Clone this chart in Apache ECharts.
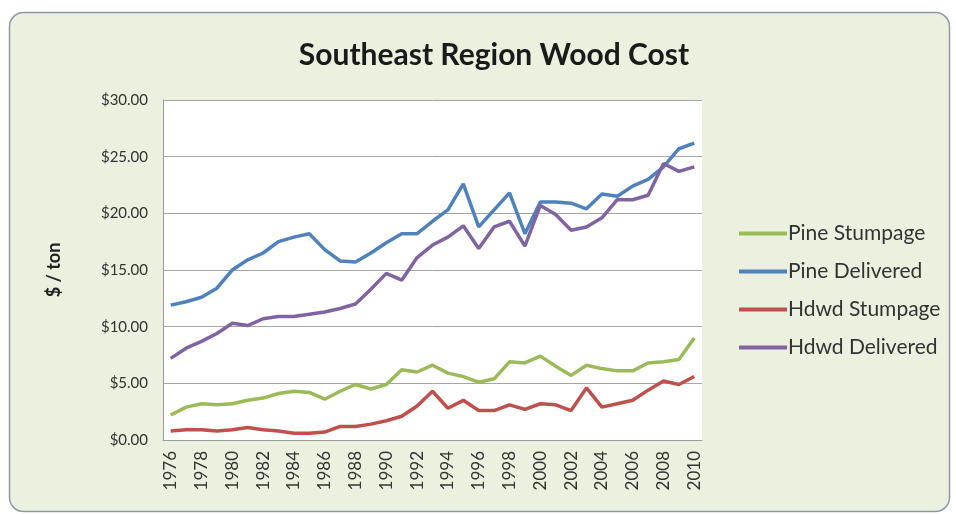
<!DOCTYPE html>
<html>
<head>
<meta charset="utf-8">
<script src="https://cdn.jsdelivr.net/npm/echarts@6/dist/echarts.min.js"></script>
<style>
  html, body { margin: 0; padding: 0; background: #ffffff; }
  #chart { width: 956px; height: 514px; }
</style>
</head>
<body>
<div id="chart"></div>
<script>
// Years on the category axis
const years = [];
for (let y = 1976; y <= 2010; y++) years.push(String(y));

// Wood cost, $ per ton
const pineStumpage = [2.2, 2.9, 3.2, 3.1, 3.2, 3.5, 3.7, 4.1, 4.3, 4.2, 3.6, 4.3, 4.9, 4.5, 4.9, 6.2, 6.0,
  6.6, 5.9, 5.6, 5.1, 5.4, 6.9, 6.8, 7.4, 6.5, 5.7, 6.6, 6.3, 6.1, 6.1, 6.8, 6.9, 7.1, 9.0];
const pineDelivered = [11.9, 12.2, 12.6, 13.4, 15.0, 15.9, 16.5, 17.5, 17.9, 18.2, 16.8, 15.8, 15.7, 16.5, 17.4, 18.2, 18.2,
  19.3, 20.3, 22.6, 18.8, 20.3, 21.8, 18.2, 21.0, 21.0, 20.9, 20.4, 21.7, 21.5, 22.4, 23.0, 24.1, 25.7, 26.2];
const hdwdStumpage = [0.8, 0.9, 0.9, 0.8, 0.9, 1.1, 0.9, 0.8, 0.6, 0.6, 0.7, 1.2, 1.2, 1.4, 1.7, 2.1, 3.0,
  4.3, 2.8, 3.5, 2.6, 2.6, 3.1, 2.7, 3.2, 3.1, 2.6, 4.6, 2.9, 3.2, 3.5, 4.4, 5.2, 4.9, 5.6];
const hdwdDelivered = [7.2, 8.1, 8.7, 9.4, 10.3, 10.1, 10.7, 10.9, 10.9, 11.1, 11.3, 11.6, 12.0, 13.3, 14.7, 14.1, 16.1,
  17.2, 17.9, 18.9, 16.9, 18.8, 19.3, 17.1, 20.7, 19.9, 18.5, 18.8, 19.6, 21.2, 21.2, 21.6, 24.4, 23.7, 24.1];

const seriesNames = ['Pine Stumpage', 'Pine Delivered', 'Hdwd Stumpage', 'Hdwd Delivered'];
const seriesData = [pineStumpage, pineDelivered, hdwdStumpage, hdwdDelivered];
const seriesColors = ['#9BBB59', '#4F81BD', '#C0504D', '#8064A2'];

const font = 'Lato, "Open Sans", sans-serif';

const chart = echarts.init(document.getElementById('chart'), null, { renderer: 'canvas' });

chart.setOption({
  backgroundColor: '#ffffff',
  animation: false,
  color: seriesColors,
  graphic: [{
    type: 'rect',
    z: -10,
    shape: { x: 9.5, y: 12.5, width: 940, height: 499, r: 14 },
    style: { fill: '#EBF1DE', stroke: '#8E98A8', lineWidth: 1.5 }
  }],
  title: {
    text: 'Southeast Region Wood Cost',
    left: 489,
    top: 35,
    textAlign: 'center',
    textStyle: { fontFamily: font, fontWeight: 'bold', fontSize: 30, color: '#1a1a1a' }
  },
  legend: {
    orient: 'vertical',
    left: 734,
    top: 218,
    itemWidth: 48,
    itemHeight: 4,
    itemGap: 17,
    icon: 'rect',
    data: seriesNames,
    textStyle: { fontFamily: font, fontSize: 21, color: '#333333', padding: [0, 0, 0, -4] }
  },
  grid: {
    left: 163,
    right: 254,
    top: 100,
    bottom: 74,
    show: true,
    backgroundColor: '#ffffff',
    borderWidth: 0
  },
  xAxis: {
    type: 'category',
    data: years,
    boundaryGap: true,
    axisLine: { show: true, lineStyle: { color: '#9a9a9a', width: 1 } },
    axisTick: { show: false },
    axisLabel: {
      interval: 1,
      rotate: 90,
      margin: 11,
      fontFamily: font,
      fontSize: 17,
      color: '#333333'
    }
  },
  yAxis: {
    type: 'value',
    min: 0,
    max: 30,
    interval: 5,
    name: '$ / ton',
    nameLocation: 'middle',
    nameGap: 100,
    nameRotate: 90,
    nameTextStyle: { fontFamily: font, fontWeight: 'bold', fontSize: 18, color: '#222222' },
    axisLine: { show: true, lineStyle: { color: '#9a9a9a', width: 1 } },
    axisTick: { show: false },
    splitLine: { show: true, lineStyle: { color: '#a6a6a6', width: 1 } },
    axisLabel: {
      margin: 15,
      fontFamily: font,
      fontSize: 15,
      color: '#333333',
      formatter: v => '$' + v.toFixed(2)
    }
  },
  series: seriesNames.map((name, i) => ({
    name: name,
    type: 'line',
    data: seriesData[i],
    showSymbol: false,
    symbol: 'none',
    lineStyle: { width: 3.5, color: seriesColors[i] },
    itemStyle: { color: seriesColors[i] }
  }))
});
</script>
</body>
</html>
